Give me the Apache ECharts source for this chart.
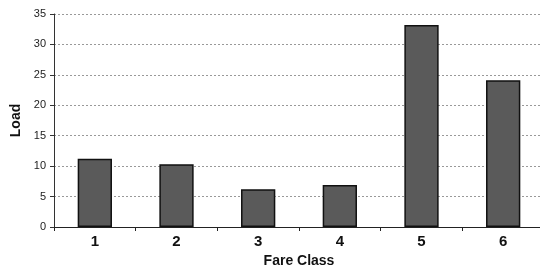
<!DOCTYPE html>
<html>
<head>
    <meta charset="UTF-8">
    <title>Load by Fare Class</title>
    <script type="text/javascript" src="https://cdn.jsdelivr.net/npm/echarts@6/dist/echarts.min.js"></script>
    <style>
        html, body { margin: 0; padding: 0; background: #fff; }
        #chart { width: 540px; height: 267px; }
    </style>
</head>
<body>
    <div id="chart"></div>
    <script>
        // data
        var fareClasses = ['1', '2', '3', '4', '5', '6'];
        var loads = [11.2, 10.3, 6.2, 6.9, 33.2, 24.1];
        var yTicks = [0, 5, 10, 15, 20, 25, 30, 35];

        var chart = echarts.init(document.getElementById('chart'), null, {renderer: 'canvas'});
        var option = {
            animation: false,
            grid: { left: 54, right: -4, top: 14, bottom: 40, outerBoundsMode: 'none' },
            xAxis: {
                type: 'category',
                data: fareClasses,
                name: 'Fare Class',
                nameLocation: 'middle',
                nameGap: 24,
                nameTextStyle: { fontFamily: 'Liberation Sans', fontWeight: 'bold', fontSize: 14, color: '#111' },
                axisLine: { lineStyle: { color: '#222', width: 1 } },
                axisTick: { show: true, length: 4, lineStyle: { color: '#222' } },
                axisLabel: { fontFamily: 'Liberation Sans', fontWeight: 'bold', fontSize: 15, color: '#111', margin: 7 }
            },
            yAxis: {
                type: 'value',
                min: yTicks[0],
                max: yTicks[yTicks.length - 1],
                interval: 5,
                name: 'Load',
                nameLocation: 'middle',
                nameGap: 30,
                nameRotate: 90,
                nameTextStyle: { fontFamily: 'Liberation Sans', fontWeight: 'bold', fontSize: 14, color: '#111' },
                axisLine: { show: true, lineStyle: { color: '#333', width: 1 } },
                axisTick: { show: true, length: 4, lineStyle: { color: '#333' } },
                axisLabel: { fontFamily: 'Liberation Sans', fontSize: 11, color: '#222', margin: 8 },
                splitLine: { show: true, lineStyle: { color: '#999', type: [2, 2], width: 1 } }
            },
            series: [{
                type: 'bar',
                data: loads,
                barWidth: '42%',
                itemStyle: {
                    color: '#5a5a5a',
                    borderColor: '#111',
                    borderWidth: 1.5
                }
            }]
        };
        chart.setOption(option);
    </script>
</body>
</html>
